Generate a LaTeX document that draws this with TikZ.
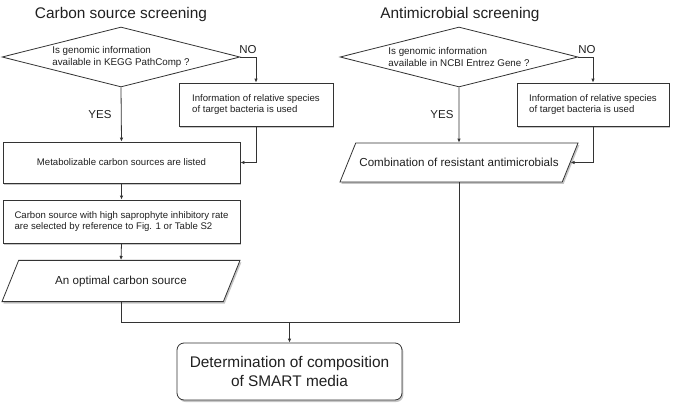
\documentclass[tikz,border=0pt]{standalone}
\usepackage{fontspec}
\setmainfont{Liberation Sans}
\usetikzlibrary{shapes.geometric,shadows,arrows.meta}
\definecolor{linegray}{HTML}{333333}
\definecolor{textgray}{HTML}{202020}
\begin{document}
\begin{tikzpicture}[x=1pt, y=1pt]
		\tikzset{shade/.style = {drop shadow={shadow xshift=1.4pt, shadow yshift=-2pt, opacity=0.45}},
			box/.style = {shape=rectangle, draw=linegray, line width=0.8pt, fill=white, text=textgray,
				inner sep=0pt, shade, font=\fontsize{9.6}{11.7}\selectfont, align=left},
			question/.style = {shape=diamond, aspect=4, draw=linegray, line width=0.8pt, fill=white,
				text=textgray, inner sep=0pt, minimum width=238pt, minimum height=60pt,
				font=\fontsize{9.8}{11.8}\selectfont, align=left},
			result/.style = {shape=trapezium, trapezium left angle=68, trapezium right angle=112,
				trapezium stretches body, draw=linegray, line width=0.8pt, fill=white, text=textgray,
				inner xsep=0pt, inner ysep=15.2pt, minimum width=238pt, shade,
				font=\fontsize{11.6}{13.5}\selectfont},
			answer/.style = {text=textgray, font=\fontsize{11.5}{13.5}\selectfont},
			heading/.style = {text=textgray, font=\fontsize{15.4}{18}\selectfont},
			flow/.style = {draw=linegray, line width=0.8pt, -{Latex[length=4pt, width=3.5pt]}},
			link/.style = {draw=linegray, line width=0.8pt}}

		\useasboundingbox (0,0) rectangle (673,-407);

		% carbon source screening
		\node[heading] (title_C) at (121,-15) {Carbon source screening};
		\node[question] (ask_C) at (121,-57) {Is genomic information\\available in KEGG PathComp ?};
		\node[box, minimum width=154pt, minimum height=43pt] (info_C) at (256,-104.5)
			{Information of relative species\\of target bacteria is used};
		\node[box, minimum width=237pt, minimum height=41pt] (list_C) at (121.5,-162.5)
			{Metabolizable carbon sources are listed};
		\node[box, minimum width=237pt, minimum height=43pt] (pick_C) at (121.5,-221.5)
			{Carbon source with high saprophyte inhibitory rate\\are selected by reference to Fig. 1 or Table S2};
		\node[result] (out_C) at (121,-281) {An optimal carbon source};
		\node[answer] (no_C) at (248,-50) {NO};
		\node[answer] (yes_C) at (100,-115) {YES};

		% antimicrobial screening
		\node[heading] (title_A) at (460,-15) {Antimicrobial screening};
		\node[question] (ask_A) at (459,-57) {Is genomic information\\available in NCBI Entrez Gene ?};
		\node[box, minimum width=152pt, minimum height=43pt] (info_A) at (593,-104.5)
			{Information of relative species\\of target bacteria is used};
		\node[result] (out_A) at (459,-162.5) {Combination of resistant antimicrobials};
		\node[answer] (no_A) at (587,-50) {NO};
		\node[answer] (yes_A) at (442,-115) {YES};

		% final step
		\node[box, rounded corners=7pt, minimum width=225pt, minimum height=57pt, align=center,
			font=\fontsize{15.4}{18.3}\selectfont] (media) at (289.5,-371.5)
			{Determination of composition\\of SMART media};
		\coordinate (join) at (289.5,-322);

		\draw[flow] (ask_C.south) -- (list_C.north);
		\draw[flow] (ask_C.east) -| (info_C.north);
		\draw[flow] (info_C.south) |- (list_C.east);
		\draw[flow] (list_C.south) -- (pick_C.north);
		\draw[flow] (pick_C.south) -- (out_C.north);

		\draw[flow] (ask_A.south) -- (out_A.north);
		\draw[flow] (ask_A.east) -| (info_A.north);
		\draw[flow] (info_A.south) |- (out_A.east);

		\draw[link] (out_C.south) |- (join);
		\draw[link] (out_A.south) |- (join);
		\draw[flow] (join) -- (media.north);

	\end{tikzpicture}
\end{document}
